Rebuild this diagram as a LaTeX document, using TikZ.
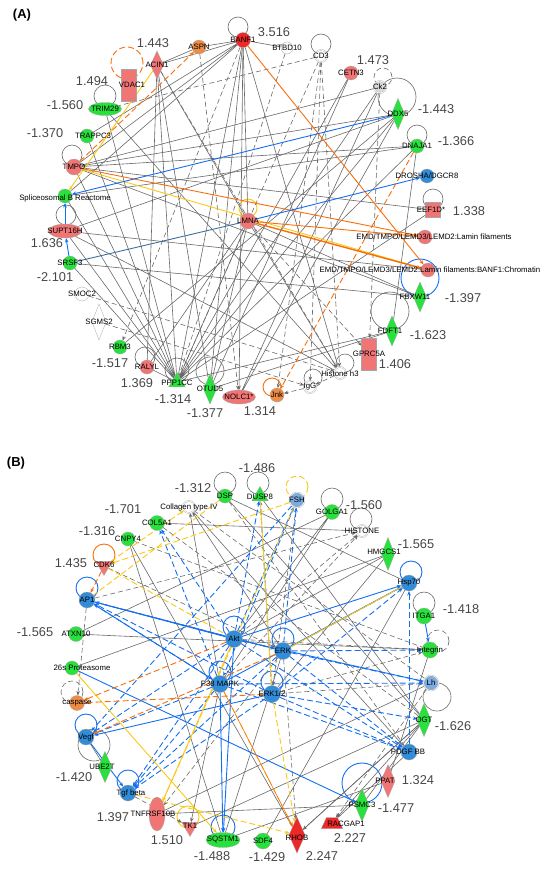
\documentclass[tikz,border=0pt]{standalone}
\usepackage{fontspec}
\setmainfont{Liberation Sans}
\usetikzlibrary{shapes.geometric,arrows.meta}

\definecolor{ipagreen}{RGB}{40,225,60}
\definecolor{ipared}{RGB}{240,118,118}
\definecolor{ipadred}{RGB}{236,40,40}
\definecolor{ipaorange}{RGB}{238,140,70}
\definecolor{ipablue}{RGB}{50,140,215}
\definecolor{ipaltblue}{RGB}{125,172,225}
\definecolor{edgeblue}{RGB}{20,110,240}
\definecolor{edgesteel}{RGB}{60,110,160}
\definecolor{edgeorange}{RGB}{250,110,10}
\definecolor{edgeyellow}{RGB}{250,200,20}
\definecolor{edgegray}{RGB}{105,105,105}
\definecolor{valgray}{RGB}{70,70,70}

\pgfdeclarelayer{bg}
\pgfsetlayers{bg,main}

\tikzset{
  nd/.style={draw=black!35, line width=0.3pt, inner sep=0pt, outer sep=0pt},
  every label/.style={font=\fontsize{7.8}{8}\selectfont, inner sep=0pt},
  gc/.style={nd, circle, fill=ipagreen, minimum size=14pt},
  rc/.style={nd, circle, fill=ipared, minimum size=14pt},
  dc/.style={nd, circle, fill=ipadred, minimum size=15pt},
  oc/.style={nd, circle, fill=ipaorange, minimum size=14pt},
  bc/.style={nd, circle, fill=ipablue, minimum size=16pt},
  lc/.style={nd, circle, fill=ipaltblue, minimum size=15pt, double=white, double distance=0.6pt},
  wc/.style={nd, circle, fill=white, minimum size=12pt},
  cx/.style={nd, circle, fill=white, minimum size=12pt, double=white, double distance=0.8pt},
  gd/.style={nd, diamond, fill=ipagreen, minimum width=13pt, minimum height=31pt},
  rd/.style={nd, diamond, fill=ipared, minimum width=13pt, minimum height=31pt},
  dd/.style={nd, diamond, fill=ipadred, minimum width=16pt, minimum height=36pt},
  wd/.style={nd, diamond, fill=white, minimum width=14pt, minimum height=36pt},
  gt/.style={nd, regular polygon, regular polygon sides=3, fill=ipagreen, minimum size=19pt},
  rt/.style={nd, regular polygon, regular polygon sides=3, shape border rotate=180, fill=ipared, minimum size=19pt},
  rr/.style={nd, rectangle, fill=ipared, minimum width=15pt, minimum height=32pt},
  ge/.style={nd, ellipse, fill=ipagreen, minimum width=33pt, minimum height=13pt},
  re/.style={nd, ellipse, fill=ipared, minimum width=33pt, minimum height=14pt},
  val/.style={font=\fontsize{12.8}{13}\selectfont, text=valgray, inner sep=0pt},
  ttl/.style={font=\bfseries\fontsize{13}{13}\selectfont, inner sep=0pt},
  ln/.style={draw=edgegray, line width=0.6pt},
  dl/.style={ln, dash pattern=on 5pt off 3pt},
  be/.style={draw=edgeblue, line width=0.9pt},
  bd/.style={be, dash pattern=on 6pt off 3pt},
  se/.style={draw=edgesteel, line width=0.9pt},
  oe/.style={draw=edgeorange, line width=0.9pt},
  od/.style={oe, dash pattern=on 6pt off 3pt},
  ye/.style={draw=edgeyellow, line width=0.9pt},
  yd/.style={ye, dash pattern=on 6pt off 3pt},
  >={Stealth[length=4.5pt,width=3.5pt]}
}

\begin{document}
\begin{tikzpicture}[x=1pt,y=-1pt]
\useasboundingbox (0,0) rectangle (550,873);

%%% (A)
\node[ttl] (tA) at (22,15) {(A)};

\node[oc,label=center:ASPN] (aspn) at (199,47) {};
\node[dc,label=center:BANF1] (banf) at (243,40) {};
\node[wc,label=center:BTBD10] (btbd) at (287,48) {};
\node[cx,label=center:CD3] (cd3) at (321,56) {};
\node[rc,label=center:CETN3] (cetn) at (351,73) {};
\node[cx,fill=black!15,label=center:Ck2] (ck2) at (380,87) {};
\node[gd,label=center:DDX5] (ddx5) at (398,114) {};
\node[gc,label=center:DNAJA1] (dnaj) at (417,146) {};
\node[bc,minimum size=14pt,label=center:DROSHA/DGCR8] (drosha) at (427,176) {};
\node[rr,minimum height=15pt,label={[xshift=-2pt]center:EEF1D*}] (eef) at (433,210) {};
\node[rc,label={[xshift=9pt]center:EMD/TMPO/LEMD3/LEMD2:Lamin filaments}] (lamf) at (425,237) {};
\node[rc,label={[xshift=2pt]center:EMD/TMPO/LEMD3/LEMD2:Lamin filaments:BANF1:Chromatin}] (chro) at (428,270) {};
\node[gd,minimum height=30pt,label={[xshift=-5pt]center:FBXW11}] (fbxw) at (420,297) {};
\node[gd,minimum height=30pt,label={[xshift=-2pt]center:FDFT1}] (fdft) at (392,331) {};
\node[rr,label=center:GPRC5A] (gprc) at (369,354) {};
\node[cx,label={[yshift=-1pt]center:Histone h3}] (hist) at (340,373) {};
\node[cx,label=center:IgG] (igg) at (310,387) {};
\node[oc,label=center:Jnk] (jnk) at (277,395) {};
\node[re,label=center:NOLC1*] (nolc) at (239,397) {};
\node[gd,minimum height=30pt,label=center:OTUD5] (otud) at (210,389) {};
\node[gt,label={[yshift=-1pt]center:PPP1CC}] (ppp) at (177,382) {};
\node[rc,label=center:RALYL] (raly) at (147,367) {};
\node[gc,label=center:RBM3] (rbm) at (120,347) {};
\node[wd,label=center:SGMS2] (sgms) at (99,322) {};
\node[wc,minimum size=14pt,label=center:SMOC2] (smoc) at (82,294) {};
\node[gc,label=center:SRSF3] (srsf) at (70,263) {};
\node[re,label=center:SUPT16H] (supt) at (65,231) {};
\node[gc,label={[yshift=-2pt]center:Spliceosomal B Reactome}] (splc) at (65,196) {};
\node[rc,minimum size=16pt,label=center:TMPO] (tmpo) at (74,167) {};
\node[gc,label={[xshift=6pt]center:TRAPPC3}] (trap) at (87,136) {};
\node[ge,label=center:TRIM29] (trim) at (105,109) {};
\node[rr,label={[xshift=3pt]center:VDAC1}] (vdac) at (129,85) {};
\node[rd,minimum height=28pt,label=center:ACIN1] (acin) at (157,65) {};
\node[rc,minimum size=16pt,label=center:LMNA] (lmna) at (248,221) {};

\node[val] (v1) at (274,32) {3.516};
\node[val] (v2) at (153,43) {1.443};
\node[val] (v3) at (92,81) {1.494};
\node[val] (v4) at (65,105) {-1.560};
\node[val] (v5) at (45,133) {-1.370};
\node[val] (v6) at (373,60) {1.473};
\node[val] (v7) at (436,109) {-1.443};
\node[val] (v8) at (456,141) {-1.366};
\node[val] (v9) at (469,211) {1.338};
\node[val] (v10) at (463,298) {-1.397};
\node[val] (v11) at (428,335) {-1.623};
\node[val] (v12) at (395,364) {1.406};
\node[val] (v13) at (260,411) {1.314};
\node[val] (v14) at (205,413) {-1.377};
\node[val] (v15) at (173,399) {-1.314};
\node[val] (v16) at (137,383) {1.369};
\node[val] (v17) at (110,363) {-1.517};
\node[val] (v18) at (55,277) {-2.101};
\node[val] (v19) at (47,243) {1.636};

%%% (B)
\node[ttl] (tB) at (16,463) {(B)};

\node[gc,label=center:DSP] (dsp) at (225,496) {};
\node[gt,label={[yshift=-1pt]center:DUSP8}] (dusp) at (260,496) {};
\node[lc,label=center:FSH] (fsh) at (297,500) {};
\node[gc,minimum size=15pt,label=center:GOLGA1] (golg) at (332,512) {};
\node[cx,label=center:HISTONE] (hstn) at (362,531) {};
\node[gd,minimum height=33pt,label={[xshift=-4pt,yshift=2pt]center:HMGCS1}] (hmgc) at (388,554) {};
\node[bc,label=center:Hsp70] (hsp) at (409,583) {};
\node[gc,minimum size=16pt,label=center:ITGA1] (itga) at (424,616) {};
\node[gc,minimum size=16pt,label=center:Integrin] (intg) at (430,650) {};
\node[lc,label=center:Lh] (lh) at (431,683) {};
\node[gd,minimum width=14pt,minimum height=33pt,label=center:OGT] (ogt) at (424,720) {};
\node[bc,label={[xshift=-1pt]center:PDGF BB}] (pdgf) at (409,752) {};
\node[rd,minimum width=14pt,minimum height=33pt,label={[xshift=-3pt]center:PPAT}] (ppat) at (388,781) {};
\node[gd,minimum width=14pt,minimum height=33pt,label=center:PSMC3] (psmc) at (362,805) {};
\node[nd,trapezium,trapezium angle=65,fill=ipadred,inner xsep=3pt,inner ysep=3pt,minimum width=15pt,minimum height=11pt,label={[xshift=14pt,yshift=-1pt]center:RACGAP1}] (racg) at (332,823) {};
\node[dd,label={[yshift=-3pt]center:RHOB}] (rhob) at (297,835) {};
\node[gc,minimum size=16pt,label=center:SDF4] (sdf) at (263,841) {};
\node[ge,minimum width=34pt,minimum height=15pt,label=center:SQSTM1] (sqst) at (223,840) {};
\node[rt,label={[yshift=1pt]center:TK1}] (tk1) at (190,827) {};
\node[re,minimum width=16pt,minimum height=34pt,label={[xshift=-4pt]center:TNFRSF10B}] (tnfr) at (157,814) {};
\node[bc,label={[xshift=3pt]center:Tgf beta}] (tgfb) at (128,793) {};
\node[gd,minimum width=14pt,label={[xshift=-3pt]center:UBE2T}] (ube) at (105,767) {};
\node[bc,label=center:Vegf] (vegf) at (86,737) {};
\node[oc,minimum size=15pt,label=center:caspase] (casp) at (77,703) {};
\node[gc,label={[xshift=10pt]center:26s Proteasome}] (prot) at (72,668) {};
\node[gc,minimum size=15pt,label=center:ATXN10] (atxn) at (76,634) {};
\node[bc,label=center:AP1] (ap1) at (87,600) {};
\node[rt,label={[yshift=1pt]center:CDK6}] (cdk6) at (104,566) {};
\node[gc,label=center:CNPY4] (cnpy) at (128,539) {};
\node[gc,minimum size=15pt,label=center:COL5A1] (col5) at (157,523) {};
\node[cx,label={[xshift=0pt]center:Collagen type IV}] (coll) at (189,507) {};
\node[bc,minimum size=17pt,label=center:Akt] (akt) at (234,639) {};
\node[bc,minimum size=17pt,label=center:ERK] (erk) at (283,651) {};
\node[bc,minimum size=17pt,label=center:P38 MAPK] (p38) at (220,684) {};
\node[bc,minimum size=17pt,label=center:ERK1/2] (erk12) at (272,694) {};

\node[val] (w1) at (193,488) {-1.312};
\node[val] (w2) at (257,468) {-1.486};
\node[val] (w3) at (364,505) {-1.560};
\node[val] (w4) at (416,544) {-1.565};
\node[val] (w5) at (461,609) {-1.418};
\node[val] (w6) at (453,726) {-1.626};
\node[val] (w7) at (418,780) {1.324};
\node[val] (w8) at (396,808) {-1.477};
\node[val] (w9) at (350,838) {2.227};
\node[val] (w10) at (322,856) {2.247};
\node[val] (w11) at (267,857) {-1.429};
\node[val] (w12) at (212,856) {-1.488};
\node[val] (w13) at (167,840) {1.510};
\node[val] (w14) at (113,817) {1.397};
\node[val] (w15) at (74,777) {-1.420};
\node[val] (w16) at (35,632) {-1.565};
\node[val] (w17) at (71,563) {1.435};
\node[val] (w18) at (97,531) {-1.316};
\node[val] (w19) at (123,509) {-1.701};

\begin{pgfonlayer}{bg}
% self loops (A)
\draw[ln] (238,27) circle (10pt);
\draw[ln] (321,44) circle (10pt);
\draw[dl] (383,77) circle (9pt);
\draw[ln] (397,97) circle (19pt);
\draw[ln] (417,135) circle (10pt);
\draw[ln] (433,199) circle (10pt);
\draw[be] (420,278) circle (19pt);
\draw[ln] (390,311) circle (19pt);
\draw[ln] (345,363) circle (9pt);
\draw[ln] (313,378) circle (9pt);
\draw[oe] (272,387) circle (9pt);
\draw[ln] (210,371) circle (14pt);
\draw[ln] (177,370) circle (12pt);
\draw[ln] (145,357) circle (10pt);
\draw[ln] (66,215) circle (10pt);
\draw[ln] (72,155) circle (10pt);
\draw[ln] (105,96) circle (11pt);
\draw[od] (127,63) circle (16pt);
\draw[ye] (248,208) circle (9pt);

% gray edges (A)
\draw[ln] (ppp) -- (trim) (ppp) -- (trap) (ppp) -- (tmpo) (ppp) -- (banf) (ppp) -- (acin);
\draw[ln] (ppp) -- (ddx5) (ppp) -- (ck2) (ppp) -- (cetn) (ppp) -- (lmna) (ppp) -- (dnaj);
\draw[ln] (ppp) -- (supt) (ppp) -- (srsf) (ppp) -- (splc) (ppp) -- (fdft) (ppp) -- (eef);
\draw[ln] (banf) -- (aspn) (banf) -- (acin) (banf) -- (tmpo) (banf) -- (trap) (banf) -- (lmna);
\draw[ln] (banf) -- (otud) (banf) -- (hist) (banf) -- (btbd) (banf) -- (splc);
\draw[ln,->] (banf) -- (nolc);
\draw[ln] (acin) -- (raly) (acin) -- (otud) (acin) -- (lmna) (acin) -- (aspn);
\draw[ln] (tmpo) -- (ddx5) (tmpo) -- (dnaj) (tmpo) -- (eef) (tmpo) -- (fbxw) (tmpo) -- (ck2);
\draw[ln] (lmna) -- (raly) (lmna) -- (fbxw) (lmna) -- (otud) (lmna) -- (hist);
\draw[ln] (ddx5) -- (supt) (ddx5) -- (nolc) (ck2) -- (nolc) (cetn) -- (otud) (dnaj) -- (fdft);
\draw[ln] (supt) -- (chro) (supt) -- (hist) (srsf) -- (fbxw) (otud) -- (fdft) (raly) -- (ppp);
\draw[ln] (trim) -- (hist) (ddx5) -- (rbm) (dnaj) -- (splc);
\draw[dl] (cd3) -- (trim) (cd3) -- (ppp) (btbd) -- (ppp);
\draw[dl,->] (cd3) -- (hist);
\draw[dl,->] (cd3) -- (igg);
\draw[dl,->] (cd3) -- (jnk);
\draw[dl,->] (ck2) -- (gprc);
\draw[dl,->] (smoc) -- (hist);
\draw[dl,->] (sgms) -- (igg);
\draw[dl,->] (banf) -- (rbm);
\draw[dl,->] (aspn) -- (nolc);
\draw[dl,->] (acin) -- (hist);
\draw[dl,->] (hist) -- (igg);
\draw[dl,->] (igg) -- (jnk);
\draw[dl,->] (lmna) -- (gprc);

% coloured edges (A)
\draw[od,->] (tmpo) -- (aspn);
\draw[ye,->] (acin) -- (splc);
\draw[ye] (tmpo) -- (chro);
\draw[oe,->] (banf) -- (chro);
\draw[oe,->] (tmpo) -- (lamf);
\draw[oe,line width=1.4pt,->] (lmna) -- (chro);
\draw[oe,->] (lmna) -- (lamf);
\draw[be,->] (ddx5) -- (splc);
\draw[be,->] (lmna) -- (drosha);
\draw[se] (srsf) -- (lmna);
\draw[be,->] (srsf) -- (supt);
\draw[be,->] (supt) -- (splc);
\draw[od,->] (dnaj) -- (jnk);

% self loops (B)
\draw[ln] (225,483) circle (11pt);
\draw[ln] (258,483) circle (11pt);
\draw[yd] (297,487) circle (11pt);
\draw[ln] (332,499) circle (11pt);
\draw[ln] (361,519) circle (11pt);
\draw[be] (411,572) circle (11pt);
\draw[ln] (424,603) circle (11pt);
\draw[dl] (438,641) circle (11pt);
\draw[ln] (437,697) circle (14pt);
\draw[be] (362,783) circle (20pt);
\draw[be] (223,827) circle (12pt);
\draw[ye] (188,817) circle (11pt);
\draw[be] (128,781) circle (11pt);
\draw[be] (86,725) circle (11pt);
\draw[ln] (94,745) circle (16pt);
\draw[dl] (72,692) circle (11pt);
\draw[be] (87,588) circle (11pt);
\draw[oe] (104,555) circle (11pt);
\draw[be] (234,627) circle (11pt);
\draw[be] (283,639) circle (11pt);
\draw[be] (220,672) circle (11pt);
\draw[be] (272,682) circle (11pt);

% gray edges (B)
\draw[ln] (golg) -- (akt) (golg) -- (p38) (dsp) -- (hsp) (dsp) -- (ogt) (cnpy) -- (sqst);
\draw[ln] (col5) -- (hstn) (hmgc) -- (akt) (hmgc) -- (erk12) (lh) -- (tnfr) (ogt) -- (tk1);
\draw[ln] (ogt) -- (rhob) (pdgf) -- (racg) (ppat) -- (sqst) (atxn) -- (golg) (vegf) -- (ube);
\draw[ln] (prot) -- (hmgc) (cnpy) -- (rhob) (psmc) -- (tnfr) (ppat) -- (intg) (sdf) -- (hsp);
\draw[ln] (dusp) -- (ogt) (coll) -- (pdgf) (atxn) -- (intg) (sqst) -- (erk) (psmc) -- (ogt);
\draw[ln,->] (p38) -- (coll);
\draw[ln,->] (erk) -- (coll);
\draw[ln,->] (p38) -- (tk1);
\draw[ln,->] (ogt) -- (racg);
\draw[ln,->] (ogt) -- (rhob);
\draw[dl,->] (akt) -- (hstn);
\draw[dl,->] (ap1) -- (hstn);
\draw[dl,->] (akt) -- (intg);
\draw[dl,->] (erk12) -- (intg);
\draw[dl,->] (erk) -- (rhob);
\draw[dl,->] (lh) -- (racg);
\draw[dl,->] (erk) -- (tnfr);
\draw[dl,->] (fsh) -- (erk12);
\draw[dl,->] (erk12) -- (lh);
\draw[dl,->] (p38) -- (hstn);
\draw[dl,->] (cdk6) -- (erk);
\draw[dl,->] (tgfb) -- (tk1);
\draw[dl,->] (ap1) -- (casp);
\draw[dl] (dsp) -- (pdgf) (cnpy) -- (intg) (coll) -- (lh) (col5) -- (ogt);

% coloured edges (B)
\draw[be,->] (akt) -- (ap1);
\draw[be,->] (akt) -- (hsp);
\draw[be,->] (p38) -- (sqst);
\draw[be,->] (prot) -- (psmc);
\draw[be,->] (itga) -- (intg);
\draw[be,->] (vegf) -- (tgfb);
\draw[be,->] (ap1) -- (erk);
\draw[be,->] (p38) -- (hsp);
\draw[be,->] (erk12) -- (vegf);
\draw[be,->] (akt) -- (sqst);
\draw[be,->] (lh) -- (akt);
\draw[be,->] (ap1) -- (p38);
\draw[bd,->] (akt) -- (vegf);
\draw[bd,->] (akt) -- (tgfb);
\draw[bd,->] (akt) -- (col5);
\draw[bd,->] (akt) -- (dusp);
\draw[bd,->] (akt) -- (fsh);
\draw[bd,->] (erk) -- (hsp);
\draw[bd,->] (erk) -- (lh);
\draw[bd,->] (erk) -- (pdgf);
\draw[bd,->] (erk) -- (ap1);
\draw[bd,->] (erk) -- (tgfb);
\draw[bd,->] (erk) -- (fsh);
\draw[bd,->] (erk) -- (intg);
\draw[bd,->] (p38) -- (vegf);
\draw[bd,->] (p38) -- (ap1);
\draw[bd,->] (p38) -- (tgfb);
\draw[bd,->] (p38) -- (pdgf);
\draw[bd,->] (p38) -- (lh);
\draw[bd,->] (erk12) -- (tgfb);
\draw[bd,->] (erk12) -- (ap1);
\draw[bd,->] (erk12) -- (pdgf);
\draw[bd,->] (erk12) -- (ogt);
\draw[bd,->] (erk12) -- (hsp);
\draw[bd,->] (fsh) -- (p38);
\draw[bd,->] (pdgf) -- (hsp);
\draw[bd,->] (p38) -- (col5);
\draw[bd,->] (fsh) -- (vegf);
\draw[bd,->] (akt) -- (pdgf);
\draw[bd,->] (erk12) -- (dusp);
\draw[ye,->] (prot) -- (sqst);
\draw[ye] (hsp) -- (erk);
\draw[ye] (dusp) -- (erk12);
\draw[ye,->] (akt) -- (tnfr);
\draw[yd,->] (fsh) -- (cdk6);
\draw[yd,->] (cdk6) -- (coll);
\draw[yd] (cdk6) -- (akt);
\draw[yd,->] (erk12) -- (rhob);
\draw[yd,->] (p38) -- (rhob);
\draw[yd,->] (fsh) -- (tnfr);
\draw[yd,->] (tgfb) -- (rhob);
\draw[yd] (dsp) -- (ap1);
\draw[od,->] (cdk6) -- (ap1);
\draw[od,->] (akt) -- (casp);
\draw[od,->] (erk) -- (vegf);
\draw[od,->] (erk12) -- (casp);
\draw[oe,line width=0.6pt,->] (p38) -- (rhob);
\end{pgfonlayer}
\end{tikzpicture}
\end{document}
